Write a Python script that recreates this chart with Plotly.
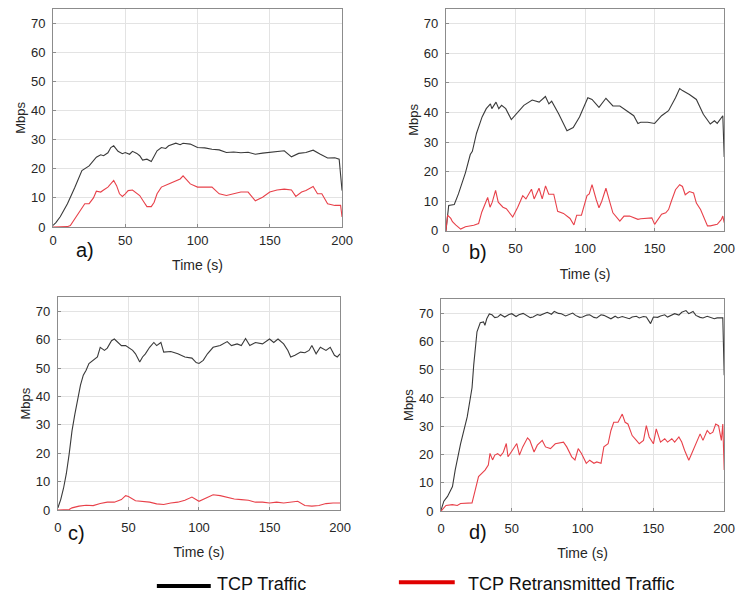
import plotly.graph_objects as go

# ---------------- data ----------------
t_a_tcp = [0, 2, 5, 10, 15, 20, 25, 30, 33, 35, 38, 40, 42, 45, 48, 50, 53, 55, 58, 60, 62, 65, 68, 70, 72, 75,
           78, 80, 85, 88, 90, 95, 100, 105, 110, 115, 120, 125, 130, 135, 140, 145, 150, 155, 160, 165, 170,
           175, 180, 185, 190, 195, 198, 200]
a_tcp = [0.5, 1.5, 3.5, 8, 13.5, 19.4, 21, 24, 24.8, 24.5, 25.5, 27.3, 27.9, 26, 25.2, 25.6, 25, 26, 25.3, 24.5,
         23, 23.3, 22.5, 24.5, 26.2, 27.3, 27, 27.9, 28.8, 28.3, 28.8, 28.5, 27.3, 27.2, 26.7, 26.5, 25.6,
         25.8, 25.5, 25.7, 25, 25.4, 25.6, 25.8, 26.2, 24.1, 25.3, 25.6, 26.4, 25, 23.7, 23.8, 23.3, 12.5]
t_a_re = [0, 5, 10, 12, 15, 20, 22, 25, 28, 30, 33, 35, 38, 42, 44, 46, 48, 50, 52, 55, 58, 60, 63, 65, 68, 70, 72,
          75, 80, 85, 88, 90, 92, 95, 100, 105, 110, 115, 120, 125, 130, 135, 140, 145, 150, 155, 160, 165, 168,
          172, 175, 180, 183, 186, 190, 195, 199, 200]
a_re = [0, 0, 0.1, 0.5, 2.8, 6.8, 8, 8, 10, 12.3, 12, 12.7, 13.7, 16, 14.2, 11.4, 10.5, 11.4, 12.5, 12.7, 11.4, 10.8,
        8.5, 7, 7, 8.5, 11.4, 13.7, 14.8, 16, 16.5, 17.6, 16.5, 14.8, 13.7, 13.7, 13.7, 11.4, 10.8, 11.4, 12, 12,
        9, 10.2, 12, 12.7, 13, 12.7, 10.5, 12, 12.5, 13.9, 11.4, 11.4, 8, 7.4, 7.4, 3.4]

t_b_tcp = [0, 2, 6, 9, 14, 17.5, 19, 22, 26, 29, 32, 33, 36, 38, 40, 43, 47, 50, 56, 62, 67, 71.5, 74, 76, 81,
           87, 91.5, 96, 101, 102, 105, 108, 110, 115, 118, 120, 125, 130, 135, 138, 140, 145, 150, 155, 160,
           165, 168, 170, 175, 180, 185, 190, 193, 195, 198, 199, 200]
b_tcp = [0, 8.6, 8.9, 12.5, 19.6, 25.8, 26.9, 33, 38.5, 41.3, 42.9, 41.3, 43.5, 41.3, 42.4, 41.3, 37.6, 39.1, 42.4,
         44.2, 43.5, 45.4, 42.9, 43.8, 39.6, 33.8, 34.9, 38.5, 44, 45, 44.4, 42.8, 41.7, 44.8, 43.3, 42.2, 42.2,
         40.6, 38.9, 36.3, 36.7, 36.7, 36.3, 38.9, 40.6, 45, 48.1, 47.4, 46.1, 44.4, 39.4, 36.1, 37.2, 36.3,
         38.3, 38.9, 25]
t_b_re = [0, 1.2, 3.5, 4.7, 7, 10.6, 14, 20, 23.5, 25.8, 27.7, 30, 31.7, 33.3, 35.7, 37.6, 41, 43.4, 48, 51.6,
          55.2, 57.5, 61.5, 63.4, 66.9, 69.2, 71.6, 73.9, 77.5, 80.3, 84.5, 89.2, 92, 94, 97.4, 101.4, 103, 105,
          108, 110, 112, 115, 118, 120, 125, 128, 132, 135, 138, 140, 145, 148, 150, 153, 155, 158, 160, 162,
          165, 168, 170, 172, 175, 178, 180, 183, 185, 188, 190, 195, 198, 199, 200]
b_re = [0, 5.3, 4.2, 3.1, 2, 0.6, 1.4, 1.9, 2.5, 6.4, 8.6, 11.3, 8, 9.7, 13.7, 9.7, 8, 7.5, 4.7, 8, 11.9, 10.8,
        14.1, 10.8, 14.4, 10.8, 15.2, 12.4, 12.4, 6.6, 5.9, 4.2, 2, 5.3, 5.3, 11.9, 12.5, 15.6, 10.6, 7.8, 10,
        14.4, 9.4, 6.1, 3.3, 5, 5, 4.4, 3.9, 4.1, 4.4, 4.4, 2.2, 4.4, 5.6, 6.1, 7.2, 10, 13.9, 15.6, 15, 12.2,
        13.3, 12.8, 9.4, 7.2, 5, 1.7, 1.7, 2.2, 3.9, 5, 2.8]

t_c_tcp = [0, 2, 4, 6, 8, 10, 12, 14, 16, 18, 20, 22, 25, 28, 30, 33, 35, 38, 40, 43, 45, 48, 50, 53, 55, 58, 60,
           62, 65, 68, 70, 73, 75, 78, 80, 85, 90, 95, 98, 100, 103, 106, 110, 115, 120, 123, 127, 130, 133, 136,
           140, 145, 150, 153, 156, 160, 163, 165, 168, 172, 175, 178, 180, 183, 186, 190, 193, 196, 198, 200]
c_tcp = [0.8, 3.7, 7.7, 12.9, 19.8, 27.9, 33.7, 39.4, 44, 47.5, 49.2, 51.6, 52.7, 53.9, 57.3, 56.2, 57, 59.6,
         60.2, 59, 57.9, 57.9, 57.3, 56.2, 55, 52.1, 53.9, 55, 57.3, 59, 57.9, 59, 55.6, 55.6, 55.8, 55, 53.9,
         53.5, 51.9, 51.6, 52.7, 55, 57.3, 57.9, 59.3, 57.9, 58.5, 57.9, 60.4, 57.9, 59, 58.5, 60.2, 59, 60.2,
         58.5, 56.2, 53.9, 54.5, 55.6, 55.4, 56.2, 57.9, 55, 57.3, 56.2, 57.3, 54.5, 53.9, 55]
t_c_re = [0, 5, 8, 10, 15, 20, 25, 30, 35, 40, 45, 48, 50, 55, 60, 65, 70, 75, 80, 85, 90, 95, 100, 105, 110,
          115, 120, 125, 130, 135, 140, 145, 150, 155, 160, 165, 170, 175, 180, 185, 190, 195, 200]
c_re = [0, 0, 0.2, 0.8, 1.4, 1.7, 1.6, 2.3, 2.8, 2.8, 3.7, 5.1, 4.8, 3.3, 3.1, 2.8, 2.2, 2, 2.5, 2.8, 3.5, 4.6,
        3.1, 4.3, 5.4, 5.1, 4.6, 3.9, 3.7, 3.5, 2.8, 2.8, 2.5, 2.8, 2.5, 2.8, 3.1, 1.6, 1.4, 1.6, 2.3, 2.5, 2.5]

t_d_tcp = [0, 2, 4.6, 8.1, 10, 13.8, 18.5, 21.9, 23.1, 25.4, 27.7, 30, 31, 32.3, 34.1, 36, 38, 40, 42, 45, 48, 50,
           53, 55, 58, 60, 63, 65, 68, 70, 73, 75, 78, 80, 83, 85, 88, 90, 93, 95, 98, 100, 103, 105, 108, 110,
           113, 115, 118, 120, 123, 125, 128, 130, 133, 135, 138, 140, 143, 145, 148, 150, 153, 155, 158, 160,
           163, 165, 168, 170, 173, 175, 178, 180, 183, 185, 188, 190, 193, 195, 199, 200]
d_tcp = [0.3, 3.5, 5.2, 8.7, 14.5, 23.8, 33.3, 43.6, 51.7, 63.4, 66.6, 66.9, 65.7, 68.0, 69.7, 69.4, 68.4, 68.6,
         69.5, 68.6, 69.5, 69.8, 68.8, 69.4, 69.9, 69.2, 68.4, 68.6, 69.5, 69.2, 69.8, 70.3, 69.6, 70.6, 69.9,
         69.8, 69.0, 69.4, 70.0, 69.2, 68.5, 68.6, 69.3, 69.4, 68.5, 68.3, 69.4, 69.2, 68.4, 68.0, 68.9, 68.3,
         68.8, 68.5, 68.0, 68.6, 68.9, 68.3, 68.8, 68.6, 66.3, 68.6, 68.5, 69, 69.4, 68.6, 69.4, 69.8, 69.3,
         70.3, 70.9, 69.8, 70.6, 69.2, 68.5, 68.3, 68.9, 68.6, 68.0, 68.3, 68.3, 48]
t_d_re = [0, 3.5, 8, 11.5, 13.8, 21.9, 24.2, 26.5, 31.1, 33.4, 34.6, 36.4, 38, 40, 42, 44, 46.1, 47.3, 49.6, 53.5,
          55.4, 57.7, 61.1, 62.7, 65.7, 68, 71.5, 73.8, 77.3, 80.7, 86.5, 88.8, 92.3, 94.6, 96.9, 99.2, 102.6,
          105, 108, 110, 113, 115, 118, 120, 122, 125, 128, 130, 132, 135, 138, 140, 143, 145, 147, 150, 152,
          155, 158, 160, 163, 165, 168, 170, 172, 175, 177, 180, 183, 185, 188, 190, 192, 194, 196, 198, 199, 200]
d_re = [0, 2, 2.3, 2, 2.7, 2.9, 7.5, 12.2, 14.5, 16.3, 20.4, 18.1, 19.8, 20.3, 19.5, 20.8, 23.9, 19.2, 20.9, 23.9,
        19.8, 22.7, 25.9, 25, 20.9, 23.3, 25, 22.7, 22.1, 23.8, 24.4, 22.7, 19.2, 18.1, 22.1, 20.4, 16.9, 18,
        16.9, 17.4, 16.9, 22.7, 23.8, 28.5, 31.4, 31.4, 34.3, 31.4, 30.8, 26.7, 25, 23.8, 25, 30.2, 26.2, 23.8,
        29.1, 24.4, 25.6, 24.4, 25.6, 24.4, 26.2, 24.4, 21.5, 18, 20.3, 23.8, 27.3, 25, 28.5, 27.3, 27.9, 30.8,
        30.2, 25, 30.8, 14.5]

panel_labels = ["a)", "b)", "c)", "d)"]
x_ticks = [0, 50, 100, 150, 200]
y_ticks = [0, 10, 20, 30, 40, 50, 60, 70]
legend_names = ["TCP Traffic", "TCP Retransmitted Traffic"]

# ---------------- figure ----------------
W, H = 745, 601
def px(x):
    return x / W
def py(y):
    return 1 - y / H

panels = [
    dict(t1=t_a_tcp, v1=a_tcp, t2=t_a_re, v2=a_re, dx=(50, 345), dy=(230, 9), lab=(83, 253), xs=1),
    dict(t1=t_b_tcp, v1=b_tcp, t2=t_b_re, v2=b_re, dx=(451, 735), dy=(234, 9), lab=(484, 255), xs=6),
    dict(t1=t_c_tcp, v1=c_tcp, t2=t_c_re, v2=c_re, dx=(55, 343), dy=(517, 301), lab=(74, 540), xs=5),
    dict(t1=t_d_tcp, v1=d_tcp, t2=t_d_re, v2=d_re, dx=(446, 735), dy=(518, 303), lab=(484, 539), xs=5),
]

BLACK = "#3a3a3a"
RED = "#e8414a"
FONT = "Liberation Sans, Arial, sans-serif"

fig = go.Figure()
layout = dict(
    width=W, height=H, margin=dict(l=0, r=0, t=0, b=0),
    paper_bgcolor="white", plot_bgcolor="white",
    font=dict(family=FONT, size=13, color="#262626"),
    showlegend=False,
    annotations=[], shapes=[],
)

for i, p in enumerate(panels):
    n = "" if i == 0 else str(i + 1)
    xa, ya = "x" + n, "y" + n
    fig.add_trace(go.Scatter(x=p["t1"], y=p["v1"], mode="lines", line=dict(color=BLACK, width=1.1),
                             xaxis=xa, yaxis=ya, name=legend_names[0]))
    fig.add_trace(go.Scatter(x=p["t2"], y=p["v2"], mode="lines", line=dict(color=RED, width=1.1),
                             xaxis=xa, yaxis=ya, name=legend_names[1]))
    common = dict(showline=True, mirror=True, linecolor="#8c8c8c", linewidth=1,
                  showgrid=True, gridcolor="#e3e3e3", gridwidth=1, zeroline=False,
                  ticks="inside", ticklen=3, tickcolor="#8c8c8c",
                  tickfont=dict(size=13, color="#262626"))
    layout["xaxis" + n] = dict(common, domain=[px(p["dx"][0]), px(p["dx"][1])], range=[0, 200],
                               tickvals=x_ticks, anchor=ya, ticklabelstandoff=p["xs"],
                               title=dict(text="Time (s)", standoff=13, font=dict(size=14)))
    layout["yaxis" + n] = dict(common, domain=[py(p["dy"][0]), py(p["dy"][1])], range=[0, 75],
                               tickvals=y_ticks, anchor=xa, ticklabelstandoff=4,
                               title=dict(text="Mbps", standoff=2, font=dict(size=13)))
    layout["annotations"].append(dict(text=panel_labels[i], x=px(p["lab"][0]), y=py(p["lab"][1]),
                                      xref="paper", yref="paper", showarrow=False,
                                      xanchor="center", yanchor="middle",
                                      font=dict(size=20, color="#111111")))

# legend drawn below the panels
leg = [
    dict(name=legend_names[0], color="#000000", x0=156, x1=211, y=594, tx=215),
    dict(name=legend_names[1], color="#e00000", x0=403, x1=460, y=590, tx=471),
]
for e in leg:
    layout["shapes"].append(dict(type="line", xref="paper", yref="paper",
                                 x0=px(e["x0"]), x1=px(e["x1"]), y0=py(e["y"]), y1=py(e["y"]),
                                 line=dict(color=e["color"], width=4)))
    layout["annotations"].append(dict(text=e["name"], x=px(e["tx"]), y=py(592), xref="paper", yref="paper",
                                      showarrow=False, xanchor="left", yanchor="middle",
                                      font=dict(size=18, color="#111111")))

fig.update_layout(**layout)
fig.write_html("out.html")
